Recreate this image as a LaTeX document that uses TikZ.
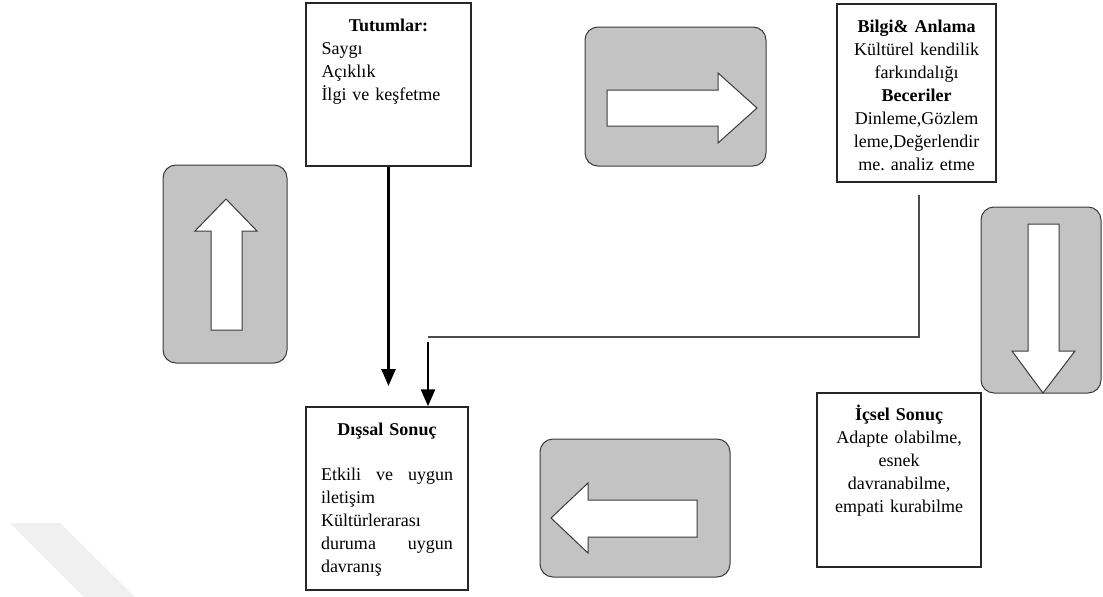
\documentclass[tikz,border=0pt]{standalone}
\usepackage{fontspec}
\setmainfont{Liberation Serif}
\usetikzlibrary{arrows.meta}
\definecolor{panelgray}{HTML}{C3C3C3}
\definecolor{edgegray}{HTML}{3A3A3A}
\definecolor{wm}{HTML}{F0F0F0}
\tikzset{
  txtbox/.style={draw=black!85, line width=1.4pt, rectangle, inner sep=0pt},
  panel/.style={draw=edgegray, line width=1pt, fill=panelgray, rounded corners=13pt},
  blockarrow/.style={draw=edgegray, line width=1pt, fill=white},
  boxtext/.style={anchor=north, inner sep=0pt, font=\fontsize{18}{23}\selectfont},
  arr/.style={line width=2.6pt, -{Triangle[length=17pt,width=14pt]}},
  conn/.style={draw=black!70, line width=1.4pt}
}
\begin{document}
\begin{tikzpicture}[x=1pt,y=-1pt]
\useasboundingbox (0,0) rectangle (1103,597);
% faint watermark band
\fill[wm] (10,523) -- (60,523) -- (135,597) -- (84,597) -- cycle;

% text boxes
\node[txtbox, minimum width=165pt, minimum height=163pt] (tut) at (388.5,84.5) {};
\node[boxtext, text width=134pt, align=left] (tuttext) at ([yshift=-17pt]tut.north)
  {\centering\textbf{Tutumlar:}\par\raggedright Saygı\\Açıklık\\İlgi ve keşfetme};

\node[txtbox, minimum width=159pt, minimum height=178pt] (bil) at (916.5,93) {};
\node[boxtext, text width=155pt, align=center] (biltext) at ([yshift=-17pt]bil.north)
  {\textbf{Bilgi\& Anlama}\\Kültürel kendilik\\farkındalığı\\\textbf{Beceriler}\\Dinleme,Gözlem\\leme,Değerlendir\\me.\ analiz etme};

\node[txtbox, minimum width=162pt, minimum height=183pt] (dis) at (387,498.5) {};
\node[boxtext, text width=132pt, align=left] (distext) at ([yshift=-17pt]dis.north)
  {\centering\textbf{Dışsal Sonuç}\par\vspace{22pt}\raggedright
   Etkili\hfill ve\hfill uygun\\iletişim\\Kültürlerarası\\duruma\hfill uygun\\davranış};

\node[txtbox, minimum width=164pt, minimum height=174pt] (ic) at (899,480) {};
\node[boxtext, text width=158pt, align=center] (ictext) at ([yshift=-13pt]ic.north)
  {\textbf{İçsel Sonuç}\\Adapte olabilme,\\esnek\\davranabilme,\\empati kurabilme};

% up panel
\draw[panel] (163,165) rectangle (287,363);
\draw[blockarrow] (211,330) -- (211,231) -- (195,231) -- (226,199) -- (257,231) -- (242,231) -- (242,330) -- cycle;
% right panel
\draw[panel] (585,27) rectangle (766,166);
\draw[blockarrow] (607,90) -- (718,90) -- (718,73) -- (757,108) -- (718,143) -- (718,126) -- (607,126) -- cycle;
% down panel
\draw[panel] (981,207) rectangle (1101,393);
\draw[blockarrow] (1028,224) -- (1059,224) -- (1059,351) -- (1075,351) -- (1043,393) -- (1012,351) -- (1028,351) -- cycle;
% left panel
\draw[panel] (540,439) rectangle (730,577);
\draw[blockarrow] (697,500) -- (588,500) -- (588,483) -- (551,518) -- (588,553) -- (588,537) -- (697,537) -- cycle;

% connectors
\coordinate (tend) at (388,386);
\draw[arr] (tut.south) -- (tut.south |- tend);
\coordinate (bend) at (919,337);
\coordinate (lcorner) at (428,337);
\draw[conn] ([yshift=-12pt]bil.south -| bend) -- (bend) -- (lcorner);
\draw[arr] ([yshift=-5pt]lcorner) -- (lcorner |- dis.north);
\end{tikzpicture}
\end{document}
